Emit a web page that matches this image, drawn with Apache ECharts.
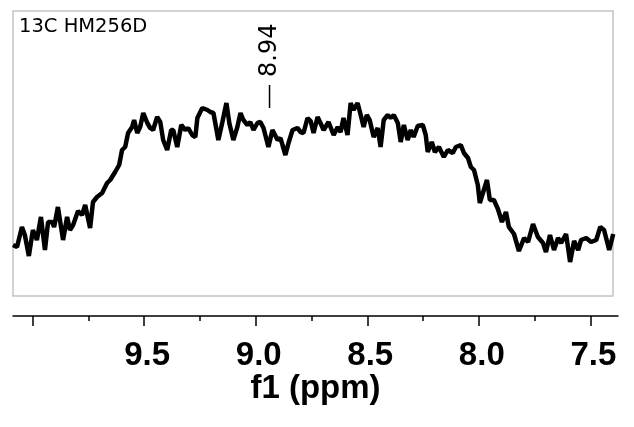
<!DOCTYPE html>
<html>
<head>
<meta charset="utf-8">
<script src="https://cdn.jsdelivr.net/npm/echarts@6/dist/echarts.min.js"></script>
<style>
html,body{margin:0;padding:0;background:#fff;}
#chart{width:634px;height:427px;}
</style>
</head>
<body>
<div id="chart"></div>
<script>
const shiftPpm = [
  10.088,10.070,10.048,10.035,10.017,9.999,9.981,9.963,9.945,9.931,
  9.913,9.904,9.887,9.864,9.846,9.833,9.819,9.797,9.779,9.765,
  9.743,9.730,9.712,9.689,9.667,9.653,9.631,9.613,9.600,9.586,
  9.573,9.555,9.546,9.532,9.519,9.505,9.487,9.474,9.461,9.443,
  9.429,9.416,9.398,9.380,9.371,9.353,9.335,9.317,9.304,9.286,
  9.272,9.263,9.241,9.218,9.205,9.191,9.169,9.151,9.133,9.120,
  9.102,9.084,9.070,9.057,9.039,9.026,9.012,8.994,8.981,8.967,
  8.945,8.927,8.904,8.891,8.882,8.869,8.855,8.837,8.815,8.801,
  8.788,8.770,8.756,8.743,8.725,8.712,8.698,8.676,8.653,8.635,
  8.622,8.609,8.591,8.577,8.564,8.546,8.532,8.519,8.505,8.492,
  8.474,8.456,8.443,8.429,8.411,8.398,8.384,8.366,8.353,8.339,
  8.322,8.308,8.295,8.277,8.254,8.241,8.232,8.214,8.200,8.182,
  8.160,8.142,8.120,8.106,8.084,8.070,8.052,8.039,8.025,8.008,
  7.999,7.981,7.967,7.954,7.936,7.918,7.900,7.882,7.869,7.846,
  7.824,7.801,7.783,7.761,7.739,7.716,7.703,7.685,7.667,7.649,
  7.635,7.613,7.595,7.577,7.559,7.546,7.523,7.501,7.478,7.460,
  7.443,7.420,7.402
];
// Signal intensity (arbitrary units) at each shift
const intensity = [
  51,49,69,61,40,66,56,79,46,74,
  74,69,89,56,79,66,71,85,81,91,
  68,94,99,103,113,116,124,131,146,149,
  163,169,176,163,169,183,173,168,166,179,
  174,156,146,166,166,149,171,166,168,161,
  159,178,188,186,184,183,156,174,193,173,
  156,169,183,176,171,174,166,173,174,168,
  149,166,156,158,151,141,153,166,168,164,
  163,178,175,163,179,173,166,174,161,169,
  164,178,161,193,186,193,181,169,181,176,
  159,168,149,176,181,178,181,173,154,171,
  156,166,159,170,171,161,144,154,144,149,
  139,146,143,149,151,143,138,129,126,111,
  93,106,116,96,96,87,74,84,69,62,
  45,58,54,72,59,53,44,61,46,58,
  53,62,34,55,46,56,58,54,56,69,
  66,46,62
];
// Peak pick marker
const peakPpm = 8.94;
const peakMarkTop = 211;
const peakMarkBottom = 188;
// Axis ticks
const majorTicks = [10.0, 9.5, 9.0, 8.5, 8.0, 7.5];
const minorTicks = [9.75, 9.25, 8.75, 8.25, 7.75];
const tickLabels = [9.5, 9.0, 8.5, 8.0, 7.5];
const titleText = '13C HM256D';
const axisName = 'f1 (ppm)';

const spectrum = shiftPpm.map((x, i) => [x, intensity[i]]);

const chart = echarts.init(document.getElementById('chart'), null, {renderer: 'canvas'});
const labelFont = {fontFamily: '"Liberation Sans", Arial, sans-serif', fontWeight: 'bold', fontSize: 33, color: '#000'};

chart.setOption({
  animation: false,
  backgroundColor: '#fff',
  title: {
    text: titleText,
    left: 19, top: 17, padding: 0,
    textStyle: {fontFamily: '"DejaVu Sans", Verdana, sans-serif', fontWeight: 'normal', fontSize: 19.5, color: '#000'}
  },
  grid: [
    {left: 13, top: 11, width: 600, height: 285, show: true, borderColor: '#c4c4c4', borderWidth: 1.5, backgroundColor: 'transparent'},
    {left: 13, top: 296, width: 605, height: 20, show: false}
  ],
  xAxis: [
    {gridIndex: 0, type: 'value', min: 7.403, max: 10.088, inverse: true, show: false},
    {gridIndex: 1, type: 'value', min: 7.376, max: 10.088, inverse: true, position: 'bottom',
      axisLine: {show: true, lineStyle: {color: '#000', width: 1.5}},
      axisTick: {show: true, length: 10, lineStyle: {color: '#000', width: 1.5}, customValues: majorTicks},
      axisLabel: Object.assign({show: true, margin: 23, padding: [0, 0, 0, 6], customValues: tickLabels, formatter: v => v.toFixed(1)}, labelFont),
      splitLine: {show: false},
      name: axisName, nameLocation: 'middle', nameGap: 56,
      nameTextStyle: labelFont
    },
    {gridIndex: 1, type: 'value', min: 7.376, max: 10.088, inverse: true, position: 'bottom',
      axisLine: {show: false},
      axisTick: {show: true, length: 5, lineStyle: {color: '#000', width: 1.5}, customValues: minorTicks},
      axisLabel: {show: false, customValues: minorTicks},
      splitLine: {show: false}
    }
  ],
  yAxis: [
    {gridIndex: 0, type: 'value', min: 0, max: 285, show: false},
    {gridIndex: 1, type: 'value', min: 0, max: 1, show: false}
  ],
  series: [
    {
      type: 'line', xAxisIndex: 0, yAxisIndex: 0,
      data: spectrum, showSymbol: false, symbol: 'none',
      lineStyle: {color: '#000', width: 4.5}, z: 3
    },
    {
      type: 'line', xAxisIndex: 0, yAxisIndex: 0,
      showSymbol: true, symbol: 'circle', symbolSize: 0,
      itemStyle: {color: '#000'},
      lineStyle: {color: '#000', width: 1.5},
      data: [
        {value: [peakPpm, peakMarkTop], label: {
          show: true, position: 'top', distance: 8, rotate: 90, align: 'left', verticalAlign: 'middle',
          formatter: p => p.value[0].toFixed(2),
          fontFamily: '"DejaVu Sans", Verdana, sans-serif', fontSize: 24, color: '#000'
        }},
        [peakPpm, peakMarkBottom]
      ],
      z: 4
    }
  ]
});
</script>
</body>
</html>
